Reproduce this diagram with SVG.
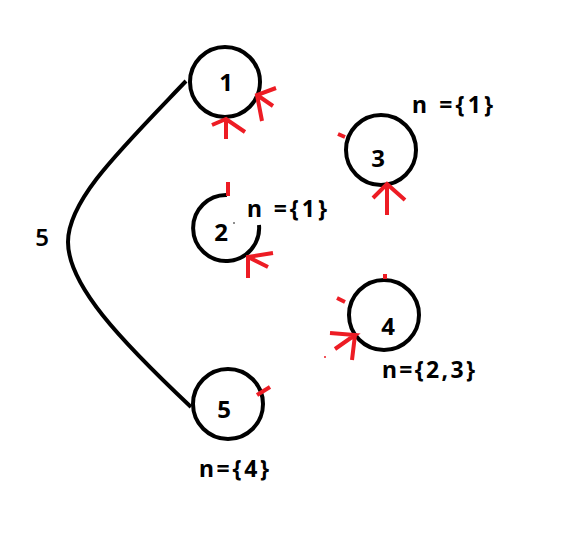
<svg xmlns="http://www.w3.org/2000/svg" width="568" height="548" viewBox="0 0 568 548">
<style>
.node{fill:none;stroke:#000;stroke-width:4}
.lbl{font-family:"Noto Sans","Open Sans",sans-serif;font-weight:bold;font-size:23px;fill:#000}
.num{font-family:"Noto Sans","Open Sans",sans-serif;font-weight:bold;font-size:24px;fill:#000;text-anchor:middle}
.red{fill:none;stroke:#ed1c24;stroke-width:4;stroke-linecap:butt}
</style>
<rect width="568" height="548" fill="#fff"/>
<g id="connectors">
<path d="M186,81 C120,150 68,200 68,242 C68,285 120,340 191,407" fill="none" stroke="#000" stroke-width="4"/>
<text class="num" x="42" y="246" style="font-weight:600">5</text>
</g>
<g id="node1">
<circle class="node" cx="225" cy="82" r="35"/>
<text class="num" x="226" y="91">1</text>
<path class="red" d="M226,139 L226,119 M212,125 L226,119 L245,132"/>
<path class="red" d="M276,88 L257,95 L262,121 M257,95 L273,106"/>
</g>
<g id="node2">
<path class="node" d="M227,195 A33,33 0 1 0 259,225"/>
<text class="num" x="221" y="241">2</text>
<circle cx="234" cy="223" r="0.8" fill="#000"/>
<path class="red" d="M228,182 L228,196"/>
<path class="red" d="M248,278 L248,257 L273,253 M248,257 L268,267"/>
<text class="lbl" x="247" y="217" textLength="80" lengthAdjust="spacing">n  ={1}</text>
</g>
<g id="node3">
<circle class="node" cx="381" cy="150" r="35"/>
<text class="num" x="378" y="167">3</text>
<path class="red" d="M338,134 L345,137"/>
<path class="red" d="M387,215 L387,184 M373,198 L387,184 L405,200"/>
<text class="lbl" x="412" y="113" textLength="81" lengthAdjust="spacing">n  ={1}</text>
</g>
<g id="node4">
<circle class="node" cx="384" cy="315" r="35"/>
<text class="num" x="388" y="335">4</text>
<path class="red" d="M385,274 L385,279"/>
<path class="red" d="M337,298 L345,302"/>
<path class="red" d="M330,333 L355,335 L335,349 M355,335 L352,360"/>
<circle cx="325" cy="357" r="1" fill="#ed1c24"/>
<text class="lbl" x="382" y="378" textLength="93" lengthAdjust="spacing">n={2,3}</text>
</g>
<g id="node5">
<circle class="node" cx="228" cy="404" r="35"/>
<text class="num" x="224" y="418">5</text>
<path class="red" d="M257,395 L270,387"/>
<text class="lbl" x="199" y="477" textLength="70" lengthAdjust="spacing">n={4}</text>
</g>
</svg>
